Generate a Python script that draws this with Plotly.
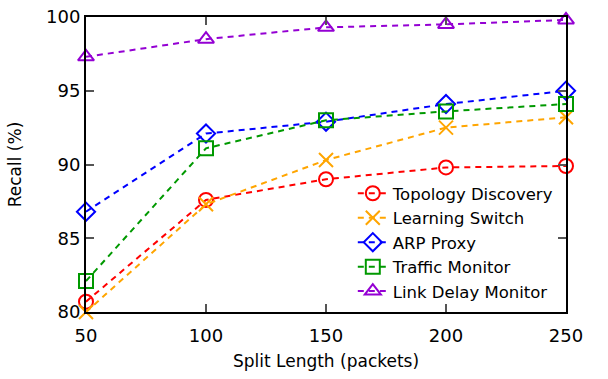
import plotly.graph_objects as go

x = [50, 100, 150, 200, 250]
series_names = ["Topology Discovery", "Learning Switch", "ARP Proxy", "Traffic Monitor", "Link Delay Monitor"]
topology = [80.7, 87.6, 89.0, 89.8, 89.9]
learning = [80.0, 87.3, 90.3, 92.5, 93.2]
arp = [86.8, 92.1, 92.9, 94.1, 95.0]
traffic = [82.1, 91.1, 93.0, 93.6, 94.1]
linkdelay = [97.3, 98.5, 99.3, 99.5, 99.8]
colors = ["#ff0000", "#ffa500", "#0000ff", "#009900", "#9400d3"]
symbols = ["circle-open", "x-thin-open", "diamond-open", "square-open", "triangle-up-open"]
values = [topology, learning, arp, traffic, linkdelay]

FONT = "DejaVu Sans"
fig = go.Figure()
for name, ys, c, s in zip(series_names, values, colors, symbols):
    fig.add_trace(go.Scatter(
        x=x, y=ys, name=name, mode="lines+markers",
        line=dict(color=c, width=2, dash="6px,5px"),
        marker=dict(symbol=s, size=14, color=c, line=dict(color=c, width=2)),
        cliponaxis=False,
    ))

axis_common = dict(
    showline=True, linecolor="black", linewidth=2, mirror="ticks",
    ticks="inside", ticklen=8, tickwidth=1.5, tickcolor="#555555",
    showgrid=False, zeroline=False, automargin=False,
    tickfont=dict(family=FONT, size=18, color="black"),
)
fig.update_xaxes(range=[50, 250], tickvals=x, ticklabelstandoff=6,
                 title=dict(text="Split Length (packets)",
                            font=dict(family=FONT, size=17, color="black"), standoff=11), **axis_common)
fig.update_yaxes(range=[80, 100], tickvals=[80, 85, 90, 95, 100],
                 title=dict(text="Recall (%)",
                            font=dict(family=FONT, size=17, color="black"), standoff=20), **axis_common)

fig.update_layout(
    width=608, height=379,
    margin=dict(l=86, r=42, t=17, b=67),
    plot_bgcolor="white", paper_bgcolor="white",
    font=dict(family=FONT, size=17, color="black"),
    legend=dict(x=0.985, y=0.01, xanchor="right", yanchor="bottom",
                bgcolor="rgba(0,0,0,0)", font=dict(family=FONT, size=16.5),
                tracegroupgap=0, itemwidth=30),
    showlegend=True,
)
fig.write_html("out.html", config={"displayModeBar": False},
               post_script="document.body.style.margin='0';")
